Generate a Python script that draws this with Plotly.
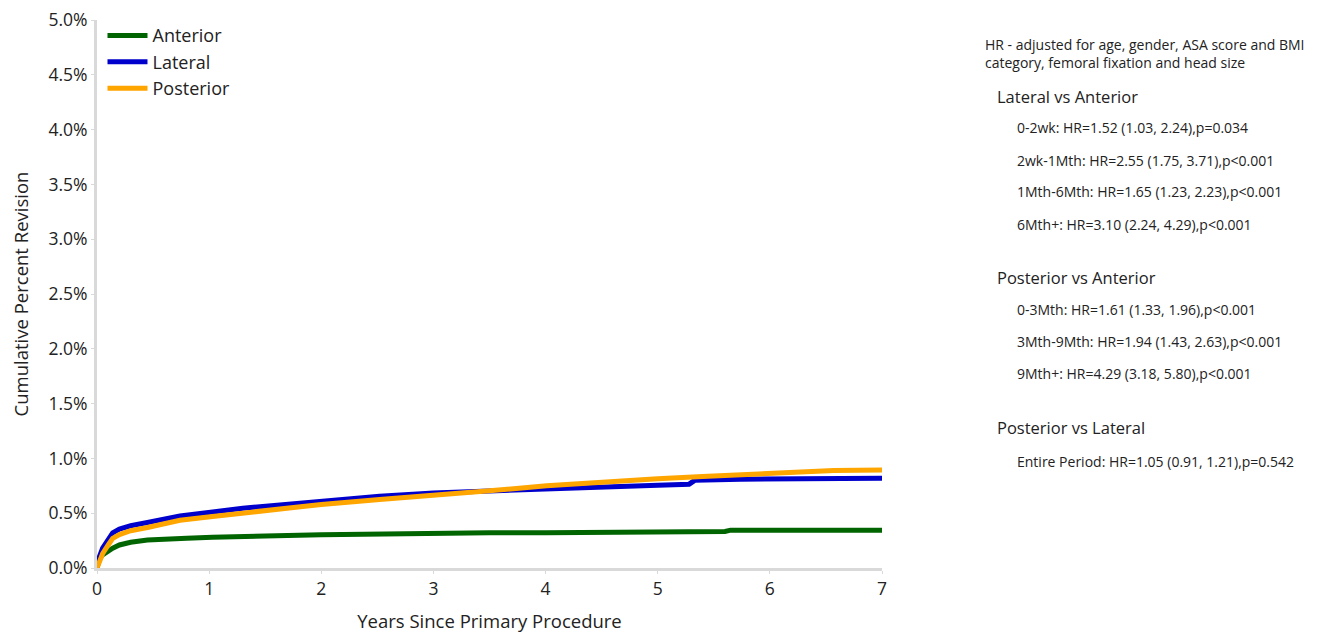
import plotly.graph_objects as go

# ---- data (years, cumulative percent revision) ----
ant_x = [0, 0.02, 0.05, 0.1, 0.14, 0.2, 0.3, 0.45, 0.6, 0.8, 1.03, 1.3, 1.6, 2.0, 2.52, 2.6, 2.91, 3.5, 4.0, 4.58, 4.62, 5.0, 5.6, 5.65, 6.2, 7.0]
ant_y = [0, 0.08, 0.12, 0.16, 0.18, 0.21, 0.235, 0.255, 0.265, 0.272, 0.28, 0.29, 0.295, 0.303, 0.31, 0.318, 0.32, 0.322, 0.322, 0.322, 0.33, 0.33, 0.333, 0.345, 0.345, 0.345]

lat_x = [0, 0.02, 0.05, 0.1, 0.14, 0.2, 0.3, 0.45, 0.6, 0.74, 1.03, 1.3, 1.63, 2.0, 2.52, 3.0, 3.5, 4.01, 4.5, 5.0, 5.28, 5.33, 5.74, 6.3, 7.0]
lat_y = [0, 0.1, 0.18, 0.27, 0.32, 0.355, 0.385, 0.415, 0.45, 0.475, 0.51, 0.545, 0.575, 0.61, 0.655, 0.685, 0.7, 0.72, 0.73, 0.755, 0.765, 0.80, 0.81, 0.815, 0.818]

pos_x = [0, 0.02, 0.05, 0.1, 0.14, 0.2, 0.3, 0.45, 0.6, 0.74, 1.03, 1.3, 1.63, 2.0, 2.52, 3.12, 3.5, 4.01, 4.5, 5.0, 5.4, 5.8, 6.2, 6.57, 7.0]
pos_y = [0, 0.06, 0.13, 0.21, 0.27, 0.305, 0.34, 0.37, 0.405, 0.435, 0.47, 0.5, 0.545, 0.58, 0.625, 0.68, 0.705, 0.75, 0.785, 0.815, 0.835, 0.855, 0.865, 0.89, 0.895]

x_ticks = [0, 1, 2, 3, 4, 5, 6, 7]
y_ticks = [0, 0.5, 1.0, 1.5, 2.0, 2.5, 3.0, 3.5, 4.0, 4.5, 5.0]
y_tick_labels = [f"{v:.1f}%" for v in y_ticks]

notes = [
    ("HR - adjusted for age, gender, ASA score and BMI<br>category, femoral fixation and head size", 983, 54, 14),
    ("Lateral vs Anterior", 995, 96, 16.5),
    ("0-2wk: HR=1.52 (1.03, 2.24),p=0.034", 1015, 128, 14),
    ("2wk-1Mth: HR=2.55 (1.75, 3.71),p<0.001", 1015, 160, 14),
    ("1Mth-6Mth: HR=1.65 (1.23, 2.23),p<0.001", 1015, 192, 14),
    ("6Mth+: HR=3.10 (2.24, 4.29),p<0.001", 1015, 224, 14),
    ("Posterior vs Anterior", 995, 277, 16.5),
    ("0-3Mth: HR=1.61 (1.33, 1.96),p<0.001", 1015, 309, 14),
    ("3Mth-9Mth: HR=1.94 (1.43, 2.63),p<0.001", 1015, 341, 14),
    ("9Mth+: HR=4.29 (3.18, 5.80),p<0.001", 1015, 373, 14),
    ("Posterior vs Lateral", 995, 427, 16.5),
    ("Entire Period: HR=1.05 (0.91, 1.21),p=0.542", 1015, 461, 14),
]

FONT = "Open Sans"
OFF = 8  # page body margin
W, H = 1321 - OFF, 633 - OFF
L, T = 97 - OFF, 20 - OFF
R = W - (882 - OFF)
B = H - (568 - OFF)
pw = W - L - R
ph = H - T - B

fig = go.Figure()
fig.add_trace(go.Scatter(x=ant_x, y=ant_y, mode="lines", name="Anterior",
                         line=dict(color="#006400", width=5)))
fig.add_trace(go.Scatter(x=lat_x, y=lat_y, mode="lines", name="Lateral",
                         line=dict(color="#0000CD", width=5)))
fig.add_trace(go.Scatter(x=pos_x, y=pos_y, mode="lines", name="Posterior",
                         line=dict(color="#FFA500", width=5)))

for text, px, py, size in notes:
    fig.add_annotation(text=text, xref="paper", yref="paper",
                       x=(px - OFF - L) / pw, y=((568 - OFF) - (py - OFF)) / ph,
                       xanchor="left", yanchor="middle", align="left",
                       showarrow=False, font=dict(family=FONT, size=size, color="#222222"))

fig.update_layout(
    width=W, height=H,
    margin=dict(l=L, r=R, t=T, b=B, autoexpand=False),
    plot_bgcolor="white", paper_bgcolor="white",
    font=dict(family=FONT, color="#222222"),
    showlegend=True,
    legend=dict(x=0.007, y=1.005, xanchor="left", yanchor="top",
                font=dict(family=FONT, size=18, color="#222222"),
                bgcolor="rgba(0,0,0,0)", itemwidth=40, tracegroupgap=0),
    xaxis=dict(range=[0, 7], tickvals=x_ticks, ticktext=[str(v) for v in x_ticks],
               showgrid=False, zeroline=False, showline=True, linecolor="#d9d9d9",
               linewidth=3, ticks="outside", ticklen=3, tickcolor="#d9d9d9",
               automargin=False, ticklabeloverflow="allow",
               tickfont=dict(size=17.5), title=dict(text="Years Since Primary Procedure",
               font=dict(size=18.5), standoff=18)),
    yaxis=dict(range=[0, 5], tickvals=y_ticks, ticktext=y_tick_labels,
               showgrid=False, zeroline=False, showline=True, linecolor="#d9d9d9",
               linewidth=3, ticks="outside", ticklen=3, tickcolor="#d9d9d9",
               automargin=False, ticklabeloverflow="allow",
               tickfont=dict(size=17.5), title=dict(text="Cumulative Percent Revision",
               font=dict(size=18.5), standoff=15)),
)

fig.write_html("out.html")
